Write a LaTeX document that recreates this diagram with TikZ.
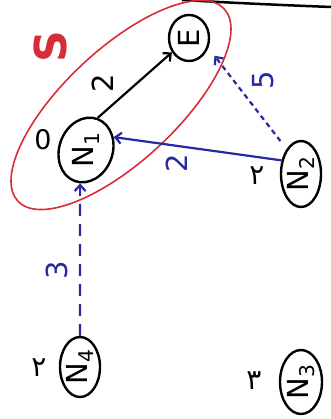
\documentclass[tikz,border=0pt]{standalone}
\usepackage{fontspec}
\usepackage{graphicx}
\setmainfont{DejaVu Sans}
\newfontfamily\pfont[Script=Arabic]{DejaVu Sans}
\usetikzlibrary{shapes.geometric,arrows.meta}
\definecolor{pblue}{RGB}{40,40,165}
\definecolor{pred}{RGB}{215,45,55}
\begin{document}
\begin{tikzpicture}[x=1pt,y=-1pt,
  vtx/.style={ellipse, draw=black, line width=2.4pt, inner sep=0pt,
    font=\fontsize{29}{29}\selectfont},
  wlab/.style={inner sep=0pt, rotate=90, font=\fontsize{29}{29}\selectfont},
  side/.style={inner sep=0pt, font=\pfont\fontsize{28}{28}\selectfont},
  barb/.style={-{Straight Barb[length=6pt,width=11pt]}},
  blk/.style={draw=black, line width=2.2pt},
  blu/.style={draw=pblue, line width=2.2pt},
  dashv/.style={dash pattern=on 12pt off 8pt},
  dashd/.style={dash pattern=on 5pt off 4pt}]
\fill[white] (0,0) rectangle (330,419);
\useasboundingbox (0,0) rectangle (330,419);
% page edge at top
\draw[line width=2.5pt] (182,0) .. controls (235,3) and (280,5) .. (331,7);
% red set
\draw[pred, line width=1.6pt, rotate around={43:(121,105)}] (121,105) ellipse [x radius=141, y radius=56];
\node[inner sep=0pt, rotate=90, text=pred, font=\bfseries\fontsize{44}{44}\selectfont] (slab) at (50,47) {S};
% vertices
\node[vtx, minimum width=40pt, minimum height=46pt] (t) at (189,38) {\rotatebox{90}{E}};
\node[vtx, minimum width=44pt, minimum height=66pt, rotate=-20] (l) at (86,150) {\rotatebox{110}{N\textsubscript{1}}};
\node[vtx, minimum width=40pt, minimum height=66pt] (r) at (301,174) {\rotatebox{90}{N\textsubscript{2}}};
\node[vtx, minimum width=40pt, minimum height=60pt] (b1) at (80,367) {\rotatebox{90}{N\textsubscript{4}}};
\node[vtx, minimum width=42pt, minimum height=64pt] (b2) at (301,382) {\rotatebox{90}{N\textsubscript{3}}};
% side marks
\node[side] (rm) at (257,176) {۲};
\node[side] (b1m) at (39,368) {۲};
\node[side] (b2m) at (254,381) {۳};
\node[inner sep=0pt, font=\fontsize{27}{27}\selectfont] (zero) at (43,140) {0};
% edges
\draw[blk, barb] (l.90) -- (t.220);
\draw[blu, barb] (r.145) -- (l.45);
\draw[blu, dashd, barb, shorten <=10pt, shorten >=10pt] (r.120) -- (t.333);
\draw[blu, dashv, barb] (b1.north) -- (l.280);
% weights
\node[wlab] (w1) at (103,83) {2};
\node[wlab, text=pblue] (w2) at (263,80) {5};
\node[wlab, text=pblue] (w3) at (177,163) {2};
\node[wlab, text=pblue] (w4) at (57,270) {3};
\end{tikzpicture}
\end{document}
